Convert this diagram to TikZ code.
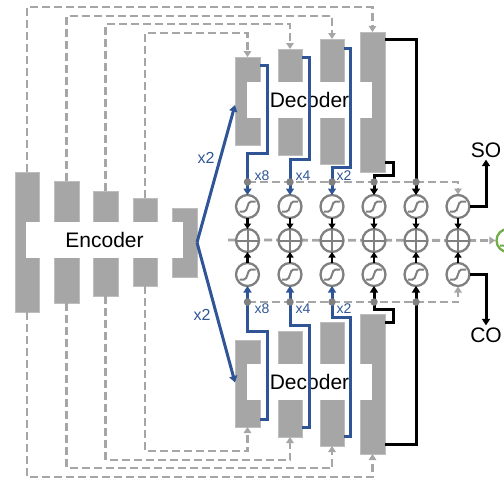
\documentclass[tikz,border=0pt]{standalone}
\usepackage{fontspec}
\setmainfont{Liberation Sans}
\usetikzlibrary{arrows.meta}
\definecolor{blockgray}{HTML}{A6A6A6}
\definecolor{blockedge}{HTML}{BDBDBD}
\definecolor{skipgray}{HTML}{A6A6A6}
\definecolor{circgray}{HTML}{808080}
\definecolor{netblue}{HTML}{2F5597}
\definecolor{outgreen}{HTML}{70AD47}
\begin{document}
\begin{tikzpicture}[x=1pt,y=-1pt,
  blockbox/.style={fill=blockgray,draw=blockedge,line width=0.7pt,anchor=north west,inner sep=0pt,outer sep=0pt},
  whitebox/.style={fill=white,draw=none,anchor=north west,inner sep=0pt,outer sep=0pt,minimum width=#1,minimum height=36pt,font=\fontsize{21}{24}\selectfont},
  sigc/.style={circle,draw=circgray,line width=2.3pt,fill=white,minimum size=23pt,inner sep=0pt,outer sep=0pt},
  dotc/.style={circle,fill=circgray,minimum size=7.5pt,inner sep=0pt},
  skipline/.style={draw=skipgray,line width=2.8pt,dash pattern=on 8pt off 4pt,-{Triangle[length=6pt,width=7.5pt]}},
  blueline/.style={draw=netblue,line width=3pt,-{Triangle[length=6.5pt,width=8pt]}},
  blackline/.style={draw=black,line width=3pt,-{Triangle[length=6.5pt,width=8pt]}},
  shortarrow/.style={draw=black,line width=2.4pt,-{Triangle[length=5.5pt,width=7pt]}},
  bluelabel/.style={text=netblue,font=\fontsize{14}{16}\selectfont,inner sep=0pt},
  biglabel/.style={text=netblue,font=\fontsize{16}{18}\selectfont,inner sep=0pt},
  outlabel/.style={font=\fontsize{21}{24}\selectfont,inner sep=2pt},
  sigmoid/.pic={\draw[circgray,line width=2pt] (-8,5) -- (-3.5,5) .. controls (0.5,5) and (-0.5,-5) .. (3.5,-5) -- (8,-5);},
  greensig/.pic={\draw[outgreen,line width=2pt] (-8,5) -- (-3.5,5) .. controls (0.5,5) and (-0.5,-5) .. (3.5,-5) -- (8,-5);}
]
\useasboundingbox (0,0) rectangle (504,499);

% ---------------- encoder blocks
\node[blockbox,minimum width=24pt,minimum height=140pt] (e1) at (15,172) {};
\node[blockbox,minimum width=25pt,minimum height=122pt] (e2) at (54,181) {};
\node[blockbox,minimum width=25pt,minimum height=105pt] (e3) at (93,191) {};
\node[blockbox,minimum width=24pt,minimum height=88pt] (e4) at (133,198) {};
\node[blockbox,minimum width=25pt,minimum height=69pt] (e5) at (172,208) {};
\node[whitebox=157pt] (enc) at (26,222) {Encoder};

% ---------------- top decoder blocks
\node[blockbox,minimum width=25pt,minimum height=88pt] (d1) at (235,57) {};
\node[blockbox,minimum width=24pt,minimum height=106pt] (d2) at (278,49) {};
\node[blockbox,minimum width=24pt,minimum height=125pt] (d3) at (320,39) {};
\node[blockbox,minimum width=25pt,minimum height=140pt] (d4) at (360,32) {};
\node[whitebox=125pt] (dectop) at (247,82) {Decoder};

% ---------------- bottom decoder blocks
\node[blockbox,minimum width=25pt,minimum height=87pt] (b1) at (235,340) {};
\node[blockbox,minimum width=24pt,minimum height=106pt] (b2) at (278,331) {};
\node[blockbox,minimum width=24pt,minimum height=124pt] (b3) at (320,322) {};
\node[blockbox,minimum width=25pt,minimum height=140pt] (b4) at (360,314) {};
\node[whitebox=125pt] (decbot) at (247,364) {Decoder};

% ---------------- skip connections (top)
\coordinate (k1) at (372.5,7);
\coordinate (k2) at (332,16);
\coordinate (k3) at (290,24);
\coordinate (k4) at (247.5,33);
\draw[skipline] (e1.north) |- (k1) -- (d4.north);
\draw[skipline] (e2.north) |- (k2) -- (d3.north);
\draw[skipline] (e3.north) |- (k3) -- (d2.north);
\draw[skipline] (e4.north) |- (k4) -- (d1.north);
% ---------------- skip connections (bottom)
\coordinate (m1) at (372.5,477);
\coordinate (m2) at (332,468);
\coordinate (m3) at (290,460);
\coordinate (m4) at (247.5,451);
\draw[skipline] (e1.south) |- (m1) -- (b4.south);
\draw[skipline] (e2.south) |- (m2) -- (b3.south);
\draw[skipline] (e3.south) |- (m3) -- (b2.south);
\draw[skipline] (e4.south) |- (m4) -- (b1.south);

% ---------------- circles
\foreach \i/\x in {1/247.5,2/290,3/332,4/374,5/416,6/458}{
  \coordinate (gt\i) at (\x,182);
  \coordinate (gb\i) at (\x,302);
}
% middle dashed line
\coordinate (mstart) at (228,240);
\node[circle,draw=outgreen,line width=2.3pt,minimum size=23pt,inner sep=0pt] (green) at (508,240.5) {};
\pic at (green) {greensig};
\draw[skipline] (mstart) -- (green.west);
% dashed gather lines
\coordinate (ht) at (458,194.5);
\coordinate (hb) at (458,286.5);
\draw[skipline] (gt1) -| (ht);
\draw[skipline] (gb1) -| (hb);

\foreach \i/\x in {1/247.5,2/290,3/332,4/374,5/416,6/458}{
  \node[sigc] (s\i) at (\x,206.5) {};
  \pic at (s\i) {sigmoid};
  \node[sigc] (p\i) at (\x,240.5) {};
  \draw[circgray,line width=2pt] (p\i.north) -- (p\i.south) (p\i.west) -- (p\i.east);
  \node[sigc] (t\i) at (\x,274.5) {};
  \pic at (t\i) {sigmoid};
  \draw[shortarrow] (s\i.south) -- (p\i.north);
  \draw[shortarrow] (t\i.north) -- (p\i.south);
}

% ---------------- blue decoder outputs (top)
\coordinate (r1) at (267,153);
\coordinate (r2) at (309,159);
\coordinate (r3) at (350,167);
\draw[blueline] ([yshift=-8pt]d1.north east) -| (r1) -| (s1.north);
\draw[blueline] ([yshift=-8pt]d2.north east) -| (r2) -| (s2.north);
\draw[blueline] ([yshift=-9pt]d3.north east) -| (r3) -| (s3.north);
% black from last top decoder block
\coordinate (q1) at (393,175);
\draw[blackline] ([yshift=-7pt]d4.north east) -| (s5.north);
\draw[blackline] ([yshift=10pt]d4.south east) -| (q1) -| (s4.north);

% ---------------- blue decoder outputs (bottom)
\coordinate (u1) at (267,331);
\coordinate (u2) at (309,325);
\coordinate (u3) at (350,317);
\draw[blueline] ([yshift=8pt]b1.south east) -| (u1) -| (t1.south);
\draw[blueline] ([yshift=10pt]b2.south east) -| (u2) -| (t2.south);
\draw[blueline] ([yshift=10pt]b3.south east) -| (u3) -| (t3.south);
\coordinate (q2) at (393,309);
\draw[blackline] ([yshift=10pt]b4.south east) -| (t5.south);
\draw[blackline] ([yshift=-8pt]b4.north east) -| (q2) -| (t4.south);

% gather dots
\foreach \i in {1,2,3,4,5}{
  \node[dotc] (dt\i) at (gt\i) {};
  \node[dotc] (db\i) at (gb\i) {};
}

% scale labels
\node[bluelabel] (lx8t) at (262,176) {x8};
\node[bluelabel] (lx4t) at (303,176) {x4};
\node[bluelabel] (lx2t) at (344,176) {x2};
\node[bluelabel] (lx8b) at (262,309) {x8};
\node[bluelabel] (lx4b) at (303,309) {x4};
\node[bluelabel] (lx2b) at (344,309) {x2};

% encoder to decoders
\draw[blueline] (e5.east) -- ([yshift=-4pt]d1.west);
\draw[blueline] (e5.east) -- ([yshift=1pt]b1.west);
\node[biglabel] (up2) at (206,158) {x2};
\node[biglabel] (dn2) at (202,315) {x2};

% outputs
\node[outlabel] (so) at (486,150) {SO};
\node[outlabel] (co) at (486,335) {CO};
\draw[blackline] (s6.east) -| (so.south);
\draw[blackline] (t6.east) -| (co.north);
\end{tikzpicture}
\end{document}
